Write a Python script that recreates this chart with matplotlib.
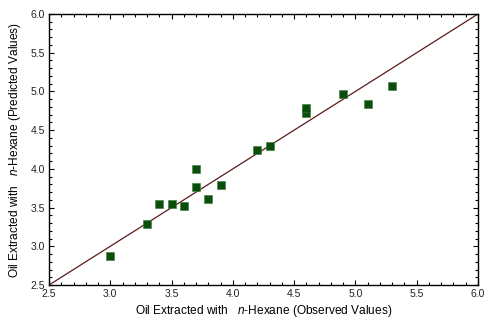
import numpy as np
import matplotlib
matplotlib.use('Agg')
import matplotlib.pyplot as plt
from matplotlib.ticker import MultipleLocator

plt.rcParams['font.family'] = ['Liberation Sans', 'DejaVu Sans']
plt.rcParams['mathtext.fontset'] = 'custom'
plt.rcParams['mathtext.it'] = 'Liberation Sans:italic'
plt.rcParams['mathtext.rm'] = 'Liberation Sans'

# observed vs predicted values
observed = [3.0, 3.3, 3.4, 3.5, 3.6, 3.7, 3.7, 3.8, 3.9, 4.2, 4.3, 4.6, 4.6, 4.9, 5.1, 5.3]
predicted = [2.88, 3.29, 3.54, 3.54, 3.52, 3.76, 4.00, 3.61, 3.79, 4.24, 4.29, 4.72, 4.79, 4.97, 4.84, 5.07]
line_x = [2.5, 6.0]

fig = plt.figure(figsize=(4.87, 3.2), dpi=100)
ax = fig.add_axes([49/487, 1 - 285/320, 429/487, 271/320])

ax.plot(line_x, line_x, color='#5c1a1a', lw=0.9, zorder=2)
ax.scatter(observed, predicted, marker='s', s=34, color='#0b4d0b',
           edgecolors='#3a7a3a', linewidths=0.4, zorder=3)

ax.set_xlim(2.5, 6.0)
ax.set_ylim(2.5, 6.0)
ax.xaxis.set_major_locator(MultipleLocator(0.5))
ax.yaxis.set_major_locator(MultipleLocator(0.5))
ax.xaxis.set_minor_locator(MultipleLocator(0.1))
ax.yaxis.set_minor_locator(MultipleLocator(0.1))
ax.xaxis.set_major_formatter(plt.FormatStrFormatter('%.1f'))
ax.yaxis.set_major_formatter(plt.FormatStrFormatter('%.1f'))
ax.tick_params(which='both', direction='in', top=True, right=True,
               labelsize=7.5, width=0.8, labelcolor='#222222')
ax.tick_params(which='major', length=3.5, pad=3)
ax.tick_params(which='minor', length=2)
for sp in ax.spines.values():
    sp.set_linewidth(1.0)

ax.set_xlabel('Oil Extracted with   $\\it{n}$-Hexane (Observed Values)', fontsize=8.6, labelpad=3)
ax.set_ylabel('Oil Extracted with   $\\it{n}$-Hexane (Predicted Values)', fontsize=8.6, labelpad=5)

fig.savefig('out.png', dpi=100)
